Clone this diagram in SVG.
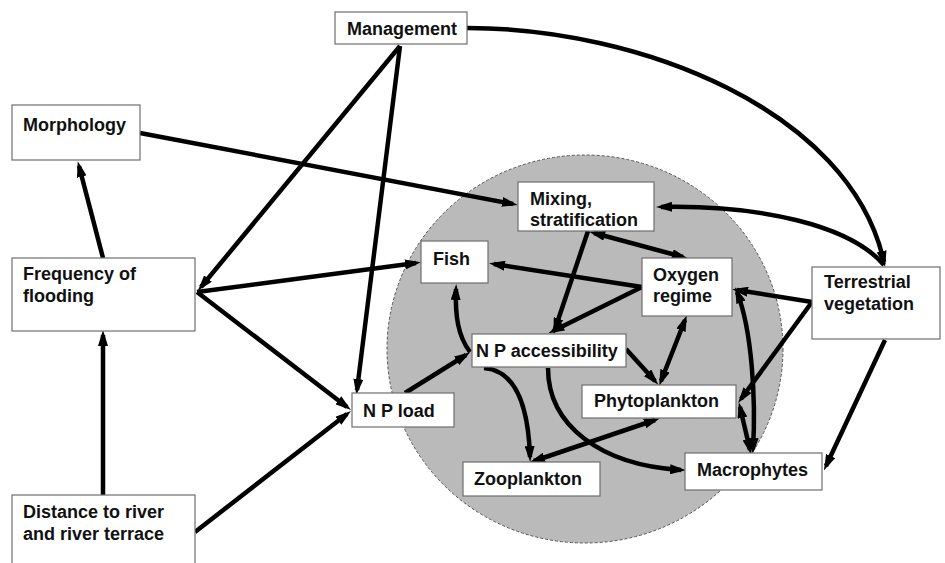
<svg xmlns="http://www.w3.org/2000/svg" width="945" height="563" viewBox="0 0 945 563">
<style>
.box{fill:#fff;stroke:#6e6e6e;stroke-width:1.2}
.lbl{font-family:"Liberation Sans",Arial,sans-serif;font-weight:bold;font-size:18px;fill:#111}
.c{fill:none;stroke:#000;stroke-width:4.5;marker-end:url(#ah)}
.d{marker-start:url(#ah)}
</style>
<defs>
<marker id="ah" viewBox="0 0 16 10" refX="11" refY="5" markerWidth="16" markerHeight="10" markerUnits="userSpaceOnUse" orient="auto-start-reverse">
<path d="M0,0 L16,5 L0,10 z" fill="#000"/>
</marker>
</defs>
<rect width="945" height="563" fill="#fff"/>
<ellipse id="lake" cx="585" cy="349" rx="198" ry="194" fill="#bababa" stroke="#555" stroke-width="1" stroke-dasharray="3,2"/>
<g id="connectors">
<path class="c" d="M467,28 C640,28 850,110 884,262"/>
<path class="c" d="M400,46 L201,287"/>
<path class="c" d="M400,46 L357,390"/>
<path class="c" d="M140,133 L513,204"/>
<path class="c" d="M103,258 L79,166"/>
<path class="c" d="M197,292 L416,263"/>
<path class="c" d="M197,292 L347,407"/>
<path class="c" d="M103,495 L103,335"/>
<path class="c" d="M195,532 L347,414"/>
<path class="c" d="M405,393 L466,355"/>
<path class="c" d="M470,352 C458,336 455,316 456,289"/>
<path class="c" d="M642,287 L494,264"/>
<path class="c" d="M642,287 L553,331"/>
<path class="c" d="M588,231 L555,329"/>
<path class="c d" d="M594,233 L683,257"/>
<path class="c" d="M884,265 C850,225 760,205 661,207"/>
<path class="c" d="M812,302 L737,290"/>
<path class="c" d="M812,302 L741,399"/>
<path class="c" d="M885,340 L826,466"/>
<path class="c" d="M626,349 L655,381"/>
<path class="c d" d="M685,320 L661,381"/>
<path class="c d" d="M737,292 C752,330 756,400 753,449"/>
<path class="c d" d="M740,407 L750,450"/>
<path class="c d" d="M655,420 L534,461"/>
<path class="c" d="M484,368 C510,370 528,395 530,457"/>
<path class="c" d="M548,368 C548,425 600,465 681,470"/>
</g>
<g id="management"><rect class="box" x="335" y="12" width="132" height="32"/><text class="lbl" x="347" y="35">Management</text></g>
<g id="morphology"><rect class="box" x="12" y="105" width="128" height="55"/><text class="lbl" x="23" y="131">Morphology</text></g>
<g id="flooding"><rect class="box" x="12" y="258" width="183" height="73"/><text class="lbl" x="23" y="280">Frequency of</text><text class="lbl" x="23" y="302">flooding</text></g>
<g id="distance"><rect class="box" x="12" y="495" width="183" height="80"/><text class="lbl" x="23" y="518">Distance to river</text><text class="lbl" x="23" y="540">and river terrace</text></g>
<g id="npload"><rect class="box" x="352" y="393" width="102" height="34"/><text class="lbl" x="363" y="417">N P load</text></g>
<g id="fish"><rect class="box" x="421" y="241" width="67" height="42"/><text class="lbl" x="433" y="265">Fish</text></g>
<g id="mixing"><rect class="box" x="518" y="182" width="136" height="49"/><text class="lbl" x="530" y="205">Mixing,</text><text class="lbl" x="530" y="226">stratification</text></g>
<g id="oxygen"><rect class="box" x="642" y="258" width="90" height="58"/><text class="lbl" x="653" y="281">Oxygen</text><text class="lbl" x="653" y="302">regime</text></g>
<g id="terrestrial"><rect class="box" x="812" y="267" width="128" height="72"/><text class="lbl" x="824" y="288">Terrestrial</text><text class="lbl" x="824" y="310">vegetation</text></g>
<g id="npaccess"><rect class="box" x="472" y="334" width="154" height="33"/><text class="lbl" x="476" y="357">N P accessibility</text></g>
<g id="phytoplankton"><rect class="box" x="582" y="385" width="154" height="33"/><text class="lbl" x="594" y="407">Phytoplankton</text></g>
<g id="zooplankton"><rect class="box" x="463" y="462" width="137" height="34"/><text class="lbl" x="474" y="485">Zooplankton</text></g>
<g id="macrophytes"><rect class="box" x="685" y="453" width="137" height="37"/><text class="lbl" x="697" y="476">Macrophytes</text></g>
</svg>
